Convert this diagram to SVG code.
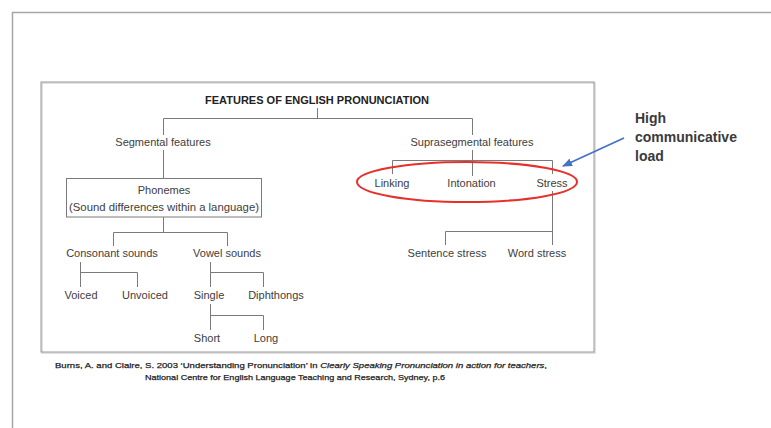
<svg xmlns="http://www.w3.org/2000/svg" width="771" height="428" viewBox="0 0 771 428">
<defs>
<style>
.t{font-family:"Liberation Sans",Arial,sans-serif;font-size:11px;fill:#3d3d3d;text-anchor:middle}
.c{stroke:#7a7a7a;stroke-width:1;fill:none}
.cit{font-family:"Liberation Sans",Arial,sans-serif;font-size:8px;fill:#222;stroke:#222;stroke-width:0.25;text-anchor:middle}
.hl{font-family:"Liberation Sans",Arial,sans-serif;font-size:14px;font-weight:bold;fill:#3a3a3a}
</style>
<marker id="ah" markerWidth="10" markerHeight="8" refX="9" refY="4" orient="auto" markerUnits="userSpaceOnUse">
<path d="M0,0 L10,4 L0,8 Z" fill="#4472c4"/>
</marker>
</defs>
<rect width="771" height="428" fill="#fff"/>
<path d="M12.5,428 V12.5 H771" stroke="#a6a6a6" stroke-width="1.5" fill="none"/>
<rect x="42" y="83" width="553" height="270" fill="none" stroke="#d8d8d8" stroke-width="1.5"/>
<rect x="41" y="82" width="553" height="270" fill="none" stroke="#999" stroke-width="1"/>
<g id="connectors" class="c">
<path d="M317.5,108 V118.5 M163.5,118.5 H472.5 M163.5,118.5 V135 M163.5,150 V178"/>
<path d="M163.5,217 V232.5 M113.5,232.5 H227.5 M113.5,232.5 V246 M227.5,232.5 V246"/>
<path d="M80.5,262 V287 M80.5,272.5 H137.5 V287"/>
<path d="M210.5,262 V287 M210.5,272.5 H263.5 V287"/>
<path d="M210.5,304 V330 M210.5,315.5 H263.5 V330"/>
<path d="M472.5,118.5 V135 M472.5,150 V176 M392.5,160.5 H552.5 M392.5,160.5 V174 M552.5,160.5 V174 M552.5,191 V245"/>
<path d="M445.5,231.5 H552.5 M445.5,231.5 V245"/>
</g>
<g id="title"><text x="317" y="104" class="t" style="font-weight:bold;fill:#222">FEATURES OF ENGLISH PRONUNCIATION</text></g>
<g id="segmental"><text x="163" y="146" class="t">Segmental features</text></g>
<g id="phonemes">
<rect x="66.5" y="178.5" width="195" height="38.5" fill="#fff" stroke="#7a7a7a"/>
<text x="164" y="194" class="t">Phonemes</text>
<text x="164" y="211" class="t" textLength="190" lengthAdjust="spacingAndGlyphs">(Sound differences within a language)</text>
</g>
<g id="consonant"><text x="112" y="257" class="t">Consonant sounds</text></g>
<g id="vowel"><text x="227" y="257" class="t">Vowel sounds</text></g>
<g id="voiced"><text x="81" y="299" class="t">Voiced</text></g>
<g id="unvoiced"><text x="145" y="299" class="t">Unvoiced</text></g>
<g id="single"><text x="209" y="299" class="t">Single</text></g>
<g id="diphthongs"><text x="276" y="299" class="t">Diphthongs</text></g>
<g id="short"><text x="207" y="342" class="t">Short</text></g>
<g id="long"><text x="266" y="342" class="t">Long</text></g>
<g id="suprasegmental"><text x="472" y="146" class="t">Suprasegmental features</text></g>
<g id="linking"><text x="392" y="187" class="t">Linking</text></g>
<g id="intonation"><text x="471.5" y="187" class="t">Intonation</text></g>
<g id="stress"><text x="552" y="187" class="t">Stress</text></g>
<g id="sentence-stress"><text x="447" y="257" class="t">Sentence stress</text></g>
<g id="word-stress"><text x="537" y="257" class="t">Word stress</text></g>
<g id="highlight">
<ellipse cx="467" cy="182" rx="110" ry="20" fill="none" stroke="#e8302a" stroke-width="2"/>
</g>
<g id="callout">
<line x1="624" y1="138" x2="563" y2="166" stroke="#4472c4" stroke-width="1.8" marker-end="url(#ah)"/>
<text class="hl"><tspan x="635" y="123">High</tspan><tspan x="635" y="142">communicative</tspan><tspan x="635" y="161">load</tspan></text>
</g>
<g id="citation">
<text x="301" y="368" class="cit" textLength="492" lengthAdjust="spacingAndGlyphs">Burns, A. and Claire, S. 2003 ‘Understanding Pronunciation’ in <tspan font-style="italic">Clearly Speaking Pronunciation in action for teachers</tspan>,</text>
<text x="295" y="380" class="cit" textLength="300" lengthAdjust="spacingAndGlyphs">National Centre for English Language Teaching and Research, Sydney, p.6</text>
</g>
</svg>
